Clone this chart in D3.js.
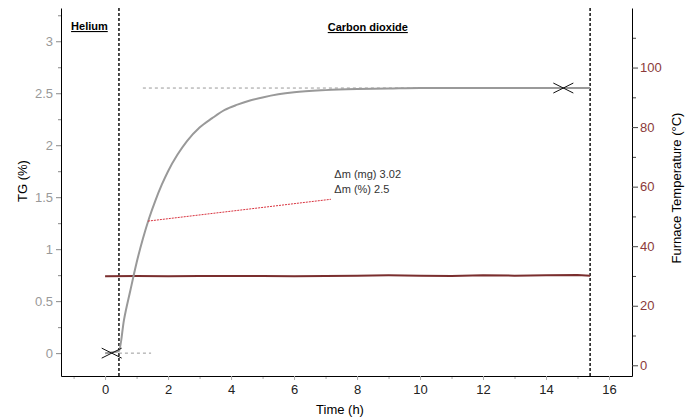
<!DOCTYPE html>
<meta charset="utf-8">
<head>
  <title>TG in CO2</title>
  <style>
  body { margin: 0; background: #fff; }
  text { font-family: "Liberation Sans", Arial, sans-serif; }
  .domain { stroke: #000; }
  </style>
</head>
<html>
<body>
<svg width="699" height="419"></svg>
</body>
</html>
<script src="https://d3js.org/d3.v7.min.js"></script>
<script>
// values
var tgTime = [0, 0.44, 0.6, 0.8, 1.0, 1.2, 1.4, 1.6, 1.8, 2.0, 2.3, 2.6, 3.0, 3.4, 3.8, 4.2, 4.6, 5.0, 5.5, 6.0, 7.0, 8.0, 9.0, 10, 12, 14, 15.4];
var tgValue = [0, 0.02, 0.32, 0.6, 0.87, 1.1, 1.3, 1.47, 1.62, 1.75, 1.91, 2.04, 2.17, 2.26, 2.34, 2.39, 2.43, 2.46, 2.49, 2.51, 2.53, 2.54, 2.545, 2.55, 2.55, 2.55, 2.55];
var tempTime = [0, 1, 2, 3, 4, 5, 6, 7, 8, 9, 10, 11, 12, 13, 14, 15, 15.4];
var tempValue = [29.9, 30, 29.9, 30, 30, 30, 29.9, 30, 30.1, 30.2, 30.1, 30, 30.2, 30.1, 30.2, 30.3, 30.1];
var gasChanges = [0.44, 15.4];
var gasLabels = ["Helium", "Carbon dioxide"];
var tgTicks = [0, 0.5, 1, 1.5, 2, 2.5, 3];
var tempTicks = [0, 20, 40, 60, 80, 100];
var timeTicks = [0, 2, 4, 6, 8, 10, 12, 14, 16];
var markers = [[0.21, 0], [14.55, 2.55]];
var plateau = 2.55;
var annot = ["\u0394m (mg) 3.02", "\u0394m (%) 2.5"];

var svg = d3.select("svg"),
    margin = {top: 8, right: 67, bottom: 43, left: 61},
    width = +svg.attr("width") - margin.left - margin.right,
    height = +svg.attr("height") - margin.top - margin.bottom,
    g = svg.append("g").attr("transform", "translate(" + margin.left + "," + margin.top + ")");

var x = d3.scaleLinear().domain([-1.4, 16.73]).range([0, width]);
var y = d3.scaleLinear().domain([-0.22, 3.32]).range([height, 0]);
var y2 = d3.scaleLinear().domain([-3.6, 120]).range([height, 0]);

// minor ticks
g.append("g")
    .attr("transform", "translate(0," + height + ")")
    .call(d3.axisBottom(x).tickValues(d3.range(-1, 17, 2)).tickSize(3).tickFormat(""))
    .call(function(a) { a.select(".domain").remove(); a.selectAll("line").attr("stroke", "#aaa"); });
g.append("g")
    .call(d3.axisLeft(y).tickValues(d3.range(0.25, 3.3, 0.5)).tickSize(3).tickFormat(""))
    .call(function(a) { a.select(".domain").remove(); a.selectAll("line").attr("stroke", "#888"); });
g.append("g")
    .attr("transform", "translate(" + width + ",0)")
    .call(d3.axisRight(y2).tickValues([10, 30, 50, 70, 90, 110]).tickSize(4).tickFormat(""))
    .call(function(a) { a.select(".domain").remove(); a.selectAll("line").attr("stroke", "#444"); });

// main axes
g.append("g")
    .attr("transform", "translate(0," + height + ")")
    .call(d3.axisBottom(x).tickValues(timeTicks).tickSize(4).tickSizeOuter(0).tickPadding(5))
    .call(function(a) {
      a.selectAll(".tick line").attr("stroke", "#aaa");
      a.selectAll("text").attr("fill", "#222").style("font-size", "13px");
    });

g.append("g")
    .call(d3.axisLeft(y).tickValues(tgTicks).tickFormat(d3.format("")).tickSize(5).tickSizeOuter(0).tickPadding(3))
    .call(function(a) {
      a.selectAll(".tick line").attr("stroke", "#888");
      a.selectAll("text").attr("fill", "#999").style("font-size", "13px");
    });

g.append("g")
    .attr("transform", "translate(" + width + ",0)")
    .call(d3.axisRight(y2).tickValues(tempTicks).tickSize(6).tickSizeOuter(0).tickPadding(2))
    .call(function(a) {
      a.selectAll(".tick line").attr("stroke", "#444");
      a.selectAll("text").attr("fill", "#8b3a3a").style("font-size", "13px");
    });

// axis titles
svg.append("text")
    .attr("transform", "translate(27,181) rotate(-90)")
    .attr("text-anchor", "middle")
    .style("font-size", "13px")
    .text("TG (%)");
svg.append("text")
    .attr("transform", "translate(681,188) rotate(-90)")
    .attr("text-anchor", "middle")
    .style("font-size", "13px")
    .text("Furnace Temperature (\u00b0C)");
svg.append("text")
    .attr("x", 340).attr("y", 414)
    .attr("text-anchor", "middle")
    .style("font-size", "13px")
    .text("Time (h)");

// gas change lines
g.selectAll(".gas")
    .data(gasChanges)
  .enter().append("line")
    .attr("x1", function(d) { return x(d); })
    .attr("x2", function(d) { return x(d); })
    .attr("y1", 0).attr("y2", height)
    .attr("stroke", "#111")
    .attr("stroke-width", 1.5)
    .attr("stroke-dasharray", "3,2");

g.append("text")
    .attr("x", x(-1.08)).attr("y", 22)
    .attr("font-weight", "bold")
    .attr("text-decoration", "underline")
    .style("font-size", "11px")
    .text(gasLabels[0]);
g.append("text")
    .attr("x", x(7.07)).attr("y", 23)
    .attr("font-weight", "bold")
    .attr("text-decoration", "underline")
    .style("font-size", "11px")
    .text(gasLabels[1]);

// guide lines
g.append("line")
    .attr("x1", x(1.2)).attr("x2", x(markers[1][0]))
    .attr("y1", y(plateau)).attr("y2", y(plateau))
    .attr("stroke", "#999").attr("stroke-dasharray", "3,3");
g.append("line")
    .attr("x1", x(gasChanges[0])).attr("x2", x(1.46))
    .attr("y1", y(0)).attr("y2", y(0))
    .attr("stroke", "#999").attr("stroke-dasharray", "3,3");

// temperature
var tempData = tempTime.map(function(t, i) { return [t, tempValue[i]]; });
g.append("path")
    .datum(tempData)
    .attr("fill", "none")
    .attr("stroke", "#7a2e2e")
    .attr("stroke-width", 2)
    .attr("d", d3.line().x(function(d) { return x(d[0]); }).y(function(d) { return y2(d[1]); }));

// TG curve
var tgData = tgTime.map(function(t, i) { return [t, tgValue[i]]; });
g.append("path")
    .datum(tgData)
    .attr("fill", "none")
    .attr("stroke", "#999")
    .attr("stroke-width", 2)
    .attr("d", d3.line().curve(d3.curveMonotoneX).x(function(d) { return x(d[0]); }).y(function(d) { return y(d[1]); }));

// markers
g.selectAll(".cross")
    .data(markers)
  .enter().append("path")
    .attr("fill", "none")
    .attr("stroke", "#111")
    .attr("stroke-width", 1)
    .attr("d", function(d) {
      var cx = x(d[0]), cy = y(d[1]);
      return "M" + (cx - 10) + "," + (cy - 5) + "L" + (cx + 10) + "," + (cy + 5) +
             "M" + (cx - 10) + "," + (cy + 5) + "L" + (cx + 10) + "," + (cy - 5);
    });

// annotation
g.append("line")
    .attr("x1", x(1.36)).attr("y1", y(1.27))
    .attr("x2", x(7.17)).attr("y2", y(1.48))
    .attr("stroke", "#d9333f")
    .attr("stroke-dasharray", "2,1");
g.selectAll(".annot")
    .data(annot)
  .enter().append("text")
    .attr("x", x(7.28))
    .attr("y", function(d, i) { return 170 + i * 15; })
    .attr("fill", "#333")
    .style("font-size", "11px")
    .text(function(d) { return d; });
</script>
